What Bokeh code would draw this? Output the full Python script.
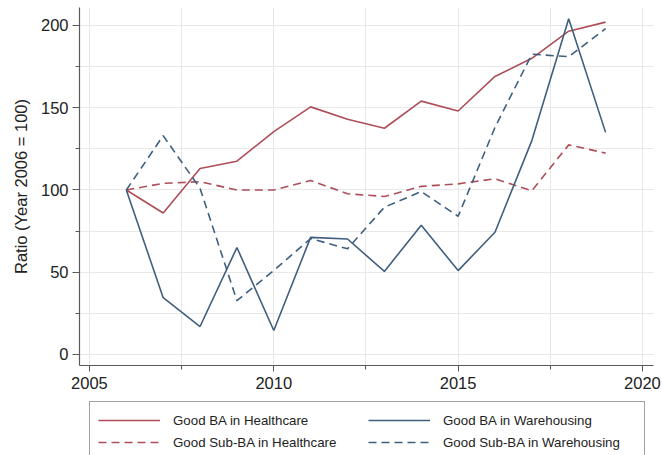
from bokeh.plotting import figure
from bokeh.layouts import column
from bokeh.models import Range1d, SingleIntervalTicker, Legend, LegendItem
from bokeh.embed import file_html
from bokeh.resources import INLINE

# Index values, 2006 = 100
years = list(range(2006, 2020))
ba_healthcare = [100, 86, 113, 117.5, 135.5, 150.5, 143, 137.5, 154, 148, 169, 180, 196.5, 202]
subba_healthcare = [100, 104, 105, 100, 100, 105.7, 97.7, 96, 102.2, 103.7, 106.8, 99.5, 127.4, 122.4]
ba_warehousing = [100, 34.5, 17, 65, 14.6, 71.2, 70.2, 50.5, 78.6, 51, 74.3, 130, 204, 135]
subba_warehousing = [100, 133, 101, 32.7, 51, 70.5, 64.2, 89.5, 99, 84, 138, 182.5, 181, 198]

series = [ba_healthcare, subba_healthcare, ba_warehousing, subba_warehousing]
series_labels = ["Good BA in Healthcare", "Good Sub-BA in Healthcare",
                 "Good BA in Warehousing", "Good Sub-BA in Warehousing"]

RED = "#ad4e59"
BLUE = "#3f5f7e"
FONT = "Liberation Sans"
styles = [(RED, "solid"), (RED, "8 5"), (BLUE, "solid"), (BLUE, "8 5")]

# Main chart
p = figure(width=662, height=398, output_backend="svg", toolbar_location=None,
           x_range=Range1d(2004.73, 2020.3), y_range=Range1d(-6.7, 210.9),
           min_border_left=79, min_border_right=9, min_border_top=7, min_border_bottom=33)
p.outline_line_color = None
p.background_fill_color = "white"
p.border_fill_color = "white"

p.xaxis.ticker = SingleIntervalTicker(interval=5, num_minor_ticks=2)
p.yaxis.ticker = SingleIntervalTicker(interval=50, num_minor_ticks=2)

for ax in (p.xaxis[0], p.yaxis[0]):
    ax.axis_line_color = "#5a5a5a"
    ax.axis_line_width = 1.2
    ax.major_tick_line_color = "#5a5a5a"
    ax.minor_tick_line_color = "#5a5a5a"
    ax.major_tick_in = 0
    ax.minor_tick_in = 0
    ax.major_label_text_font = FONT
    ax.major_label_text_font_size = "16.5px"
    ax.major_label_text_color = "#222222"

p.xaxis.major_tick_out = 6
p.xaxis.minor_tick_out = 4
p.xaxis.major_label_standoff = 5
p.yaxis.major_tick_out = 7
p.yaxis.minor_tick_out = 4
p.yaxis.major_label_standoff = 4

p.yaxis.axis_label = "Ratio (Year 2006 = 100)"
p.yaxis.axis_label_text_font = FONT
p.yaxis.axis_label_text_font_size = "16.5px"
p.yaxis.axis_label_text_font_style = "normal"
p.yaxis.axis_label_text_color = "#222222"
p.yaxis.axis_label_standoff = 8

for g in (p.xgrid[0], p.ygrid[0]):
    g.grid_line_color = "#e8e8e8"
    g.grid_line_width = 1
    g.minor_grid_line_color = "#e8e8e8"
    g.minor_grid_line_width = 1

for vals, (color, dash) in zip(series, styles):
    p.line(years, vals, line_color=color, line_width=1.6, line_dash=dash)

# Legend strip underneath the chart (its own ranges keep the series out of view,
# only the legend keys are shown)
lg = figure(width=662, height=57, output_backend="svg", toolbar_location=None,
            x_range=Range1d(0, 1), y_range=Range1d(0, 1),
            x_axis_location=None, y_axis_location=None,
            min_border_left=0, min_border_right=0, min_border_top=0, min_border_bottom=0)
lg.outline_line_color = None
lg.xgrid.visible = False
lg.ygrid.visible = False

items = []
for label, vals, (color, dash) in zip(series_labels, series, styles):
    r = lg.line(years, vals, line_color=color, line_width=1.6, line_dash=dash)
    items.append(LegendItem(label=label, renderers=[r]))

legend = Legend(
    items=items, location=(10, -6), ncols=2, orientation="vertical",
    glyph_width=62, glyph_height=20, label_height=20, label_width=193,
    label_standoff=13, spacing=2, padding=8, margin=0,
    label_text_font=FONT, label_text_font_size="13.3px", label_text_color="#222222",
    border_line_color="#444444", border_line_width=1,
    background_fill_color="white", background_fill_alpha=1,
)
lg.add_layout(legend, "center")

layout = column(p, lg, spacing=0)
open("out.html", "w").write(file_html(layout, INLINE))
